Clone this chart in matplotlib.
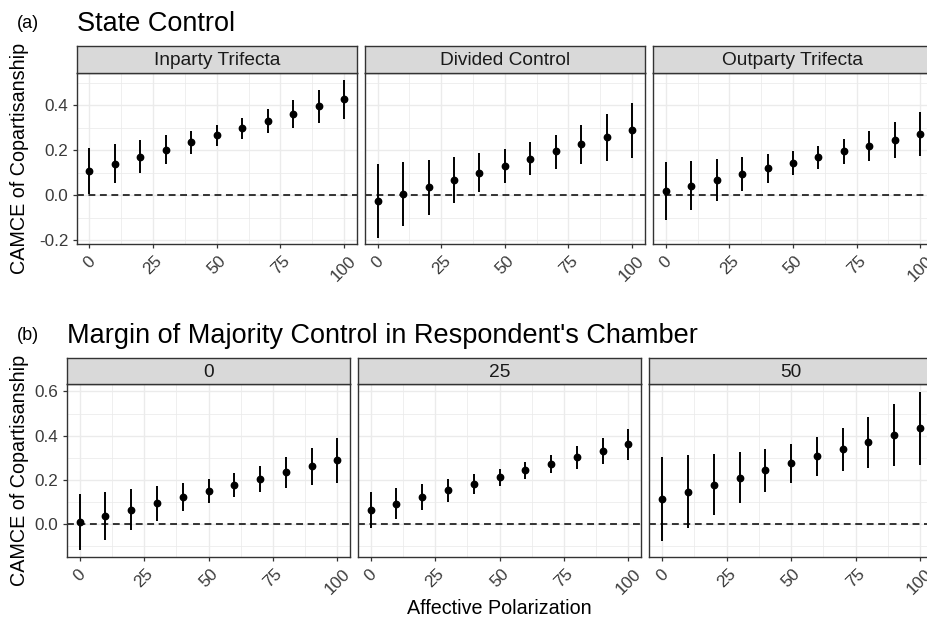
import matplotlib
matplotlib.use('Agg')
import matplotlib.pyplot as plt
from matplotlib.ticker import FixedLocator

plt.rcParams['font.family'] = ['Liberation Sans', 'DejaVu Sans']

# ---------------- data ----------------
polarization = [0, 10, 20, 30, 40, 50, 60, 70, 80, 90, 100]
x_ticks = [0, 25, 50, 75, 100]

state_facets = ['Inparty Trifecta', 'Divided Control', 'Outparty Trifecta']
inparty_est = [0.108, 0.139, 0.171, 0.202, 0.235, 0.267, 0.300, 0.331, 0.363, 0.396, 0.427]
inparty_lo = [0.004, 0.053, 0.097, 0.140, 0.182, 0.220, 0.251, 0.279, 0.301, 0.323, 0.341]
inparty_hi = [0.208, 0.226, 0.245, 0.266, 0.286, 0.314, 0.345, 0.382, 0.422, 0.466, 0.511]

divided_est = [-0.027, 0.006, 0.037, 0.069, 0.100, 0.131, 0.162, 0.195, 0.226, 0.257, 0.288]
divided_lo = [-0.190, -0.137, -0.086, -0.035, 0.013, 0.055, 0.090, 0.118, 0.137, 0.154, 0.165]
divided_hi = [0.137, 0.148, 0.159, 0.171, 0.186, 0.207, 0.235, 0.269, 0.313, 0.360, 0.410]

outparty_est = [0.018, 0.043, 0.068, 0.093, 0.120, 0.145, 0.170, 0.195, 0.220, 0.245, 0.272]
outparty_lo = [-0.111, -0.066, -0.024, 0.018, 0.056, 0.090, 0.118, 0.139, 0.154, 0.164, 0.174]
outparty_hi = [0.146, 0.154, 0.161, 0.171, 0.182, 0.198, 0.220, 0.249, 0.286, 0.328, 0.369]

margin_facets = ['0', '25', '50']
margin0_est = [0.012, 0.039, 0.066, 0.095, 0.123, 0.150, 0.179, 0.206, 0.235, 0.262, 0.290]
margin0_lo = [-0.117, -0.071, -0.027, 0.017, 0.059, 0.095, 0.125, 0.147, 0.164, 0.177, 0.188]
margin0_hi = [0.137, 0.147, 0.158, 0.173, 0.185, 0.205, 0.230, 0.265, 0.304, 0.346, 0.391]

margin25_est = [0.063, 0.093, 0.123, 0.153, 0.183, 0.214, 0.244, 0.274, 0.302, 0.332, 0.362]
margin25_lo = [-0.018, 0.024, 0.063, 0.102, 0.138, 0.174, 0.205, 0.230, 0.251, 0.272, 0.292]
margin25_hi = [0.144, 0.162, 0.182, 0.203, 0.226, 0.251, 0.280, 0.314, 0.352, 0.391, 0.432]

margin50_est = [0.116, 0.147, 0.179, 0.211, 0.244, 0.275, 0.307, 0.338, 0.370, 0.402, 0.433]
margin50_lo = [-0.074, -0.015, 0.042, 0.095, 0.146, 0.188, 0.219, 0.241, 0.254, 0.262, 0.268]
margin50_hi = [0.305, 0.311, 0.317, 0.325, 0.341, 0.362, 0.392, 0.436, 0.486, 0.541, 0.598]

state_series = [(inparty_est, inparty_lo, inparty_hi),
                (divided_est, divided_lo, divided_hi),
                (outparty_est, outparty_lo, outparty_hi)]
margin_series = [(margin0_est, margin0_lo, margin0_hi),
                 (margin25_est, margin25_lo, margin25_hi),
                 (margin50_est, margin50_lo, margin50_hi)]

ylabel = 'CAMCE of Copartisanship'
xlabel = 'Affective Polarization'

# ---------------- layout ----------------
W, H = 927, 619
fig = plt.figure(figsize=(W / 100, H / 100), dpi=100)

def px_axes(l, t, r, b):
    return fig.add_axes([l / W, 1 - b / H, (r - l) / W, (b - t) / H])

BORDER = '#333333'
GRID = '#EBEBEB'
TICKTXT = '#3A3A3A'

def draw_panel(ax, est, lo, hi, ylim, yticks, yminor, show_y):
    ax.set_xlim(-5, 105)
    ax.set_ylim(*ylim)
    ax.set_facecolor('white')
    ax.xaxis.set_major_locator(FixedLocator(x_ticks))
    ax.xaxis.set_minor_locator(FixedLocator([12.5, 37.5, 62.5, 87.5]))
    ax.yaxis.set_major_locator(FixedLocator(yticks))
    ax.yaxis.set_minor_locator(FixedLocator(yminor))
    ax.grid(which='major', color=GRID, lw=1.0, zorder=0)
    ax.grid(which='minor', color=GRID, lw=0.55, zorder=0)
    ax.set_axisbelow(True)
    for s in ax.spines.values():
        s.set_color(BORDER)
        s.set_linewidth(1.0)
    ax.tick_params(which='minor', length=0)
    ax.tick_params(axis='x', which='major', direction='out', length=3, width=0.9,
                   color=BORDER, labelsize=12.3, labelcolor=TICKTXT, pad=3.5)
    ax.set_xticklabels([str(v) for v in x_ticks], rotation=45, ha='center', va='top')
    if show_y:
        ax.tick_params(axis='y', which='major', direction='out', length=3, width=0.9,
                       color=BORDER, labelsize=12.3, labelcolor=TICKTXT, pad=3)
        ax.set_yticklabels(['%.1f' % v for v in yticks])
    else:
        ax.tick_params(axis='y', which='major', length=0, labelleft=False)
    ax.axhline(0, color='black', lw=1.1, ls=(0, (4.5, 3)), zorder=2)
    ax.vlines(polarization, lo, hi, color='black', lw=1.4, zorder=3)
    ax.plot(polarization, est, 'o', color='black', ms=4.6, zorder=4)

def draw_strip(l, t, r, b, label):
    sa = px_axes(l, t, r, b)
    sa.set_facecolor('#D9D9D9')
    sa.set_xticks([])
    sa.set_yticks([])
    for s in sa.spines.values():
        s.set_color(BORDER)
        s.set_linewidth(1.0)
    sa.text(0.5, 0.45, label, ha='center', va='center', fontsize=13.8,
            color='#1A1A1A', transform=sa.transAxes)

# ---- row (a) ----
top_x = [(76.7, 356.7), (365.0, 644.7), (653.0, 933.0)]
for i, ((l, r), (est, lo, hi), name) in enumerate(zip(top_x, state_series, state_facets)):
    ax = px_axes(l, 72.7, r, 244.3)
    draw_panel(ax, est, lo, hi, (-0.218, 0.545), [-0.2, 0.0, 0.2, 0.4],
               [-0.1, 0.1, 0.3, 0.5], i == 0)
    draw_strip(l, 46.0, r, 72.7, name)

# ---- row (b) ----
bot_x = [(66.8, 350.2), (357.8, 641.2), (649.4, 932.8)]
for i, ((l, r), (est, lo, hi), name) in enumerate(zip(bot_x, margin_series, margin_facets)):
    ax = px_axes(l, 384.3, r, 557.3)
    draw_panel(ax, est, lo, hi, (-0.149, 0.632), [0.0, 0.2, 0.4, 0.6],
               [-0.1, 0.1, 0.3, 0.5], i == 0)
    draw_strip(l, 357.7, r, 384.3, name)

# ---- titles and labels ----
fig.text(17 / W, 1 - 28 / H, '(a)', fontsize=13, ha='left', va='baseline')
fig.text(77 / W, 1 - 31 / H, 'State Control', fontsize=19.5, ha='left', va='baseline')
fig.text(17 / W, 1 - 340 / H, '(b)', fontsize=13, ha='left', va='baseline')
fig.text(67 / W, 1 - 343 / H, "Margin of Majority Control in Respondent's Chamber",
         fontsize=19.5, ha='left', va='baseline')

fig.text(20 / W, 1 - 158.5 / H, ylabel, rotation=90, fontsize=14.2,
         ha='center', va='center')
fig.text(20 / W, 1 - 470.8 / H, ylabel, rotation=90, fontsize=14.2,
         ha='center', va='center')
fig.text(499.8 / W, 1 - 614 / H, xlabel, fontsize=14.2, ha='center', va='baseline')

fig.savefig('out.png', dpi=100)
